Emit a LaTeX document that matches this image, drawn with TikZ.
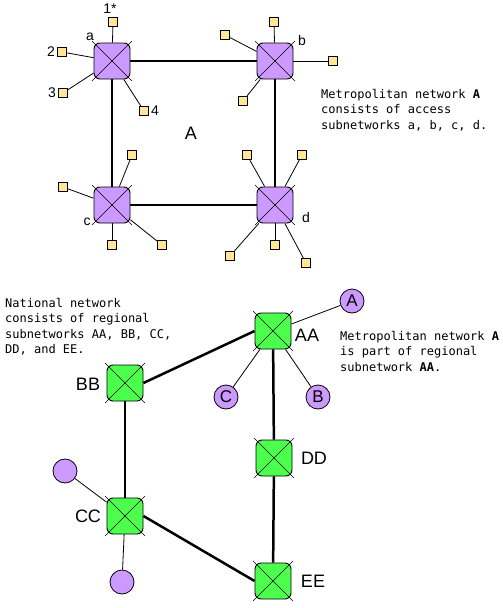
\documentclass[tikz,border=0pt]{standalone}
\usepackage{fontspec}
\setmainfont{Liberation Sans}
\newfontfamily\notefont{DejaVu Sans Mono}
\definecolor{swpurple}{HTML}{CC99FF}
\definecolor{swgreen}{HTML}{4CFF4C}
\definecolor{leafyellow}{HTML}{FFE699}
\tikzset{
 sw/.style={rectangle, rounded corners=6pt, draw, line width=0.9pt, minimum size=36pt, inner sep=0},
 purp/.style={sw, fill=swpurple},
 grn/.style={sw, fill=swgreen},
 leaf/.style={rectangle, draw, line width=0.7pt, fill=leafyellow, minimum size=9.5pt, inner sep=0},
 circ/.style={circle, draw, line width=0.8pt, fill=swpurple, minimum size=24pt, inner sep=0, font=\fontsize{17}{17}\selectfont},
 trunk/.style={line width=2.5pt},
 tap/.style={line width=0.8pt},
 crossline/.style={line width=0.45pt},
 lbl/.style={font=\fontsize{14}{14}\selectfont, inner sep=0},
 big/.style={font=\fontsize{18}{18}\selectfont, inner sep=0},
 note/.style={font=\notefont\fontsize{12}{15.5}\selectfont, align=left, anchor=north west, inner sep=0},
}
\newcommand\xcross[1]{%
  \draw[crossline] ([shift={(-20,-20)}]#1.center) -- ([shift={(20,20)}]#1.center);
  \draw[crossline] ([shift={(-20,20)}]#1.center) -- ([shift={(20,-20)}]#1.center);}
\begin{document}
\begin{tikzpicture}[x=1pt,y=-1pt]
\useasboundingbox (0,0) rectangle (503,608);
% metropolitan switches
\node[purp] (a) at (112,61) {};
\node[purp] (b) at (275,61) {};
\node[purp] (c) at (112,205) {};
\node[purp] (d) at (275,205) {};
% leaves
\node[leaf] (a1) at (113,22) {};
\node[leaf] (a2) at (62,52) {};
\node[leaf] (a3) at (63,93) {};
\node[leaf] (a4) at (144,111) {};
\node[leaf] (b1) at (274,22) {};
\node[leaf] (b2) at (225,35) {};
\node[leaf] (b3) at (333,61) {};
\node[leaf] (b4) at (243,101) {};
\node[leaf] (c1) at (132,155) {};
\node[leaf] (c2) at (63,187) {};
\node[leaf] (c3) at (112,245) {};
\node[leaf] (c4) at (162,245) {};
\node[leaf] (d1) at (247,155) {};
\node[leaf] (d2) at (302,155) {};
\node[leaf] (d3) at (230,256) {};
\node[leaf] (d4) at (275,245) {};
\node[leaf] (d5) at (306,263) {};
% labels
\node[lbl] (la1) at (110,9) {1*};
\node[lbl] (la2) at (51,52) {2};
\node[lbl] (la3) at (52,93) {3};
\node[lbl] (la4) at (155,111) {4};
\node[lbl] (la) at (90,37) {a};
\node[lbl] (lb) at (302,40) {b};
\node[lbl] (lc) at (87,222) {c};
\node[lbl] (ld) at (306,217) {d};
\node[big] (lA) at (191,133) {A};
% trunks
\draw[trunk] (a) -- (b);
\draw[trunk] (a) -- (c);
\draw[trunk] (b) -- (d);
\draw[trunk] (c) -- (d);
% taps
\foreach \s/\l in {a/a1,a/a2,a/a3,a/a4,b/b1,b/b2,b/b3,b/b4,c/c1,c/c2,c/c3,c/c4,d/d1,d/d2,d/d3,d/d4,d/d5}
  \draw[tap] (\s) -- (\l);
\foreach \s in {a,b,c,d} {\xcross{\s}}
\node[note] (n1) at (321,89) {Metropolitan network \textbf{A}\\consists of access\\subnetworks a, b, c, d.};
% national network
\node[grn] (AA) at (273,331) {};
\node[grn] (BB) at (125,383) {};
\node[grn] (CC) at (125,516) {};
\node[grn] (DD) at (274,458) {};
\node[grn] (EE) at (273,581) {};
\node[circ] (cA) at (352,301) {A};
\node[circ] (cC) at (226,397) {C};
\node[circ] (cB) at (318,397) {B};
\node[circ] (cL) at (65,471) {};
\node[circ] (cD) at (122,582) {};
\node[big] (lAA) at (307,335) {AA};
\node[big] (lBB) at (88,384) {BB};
\node[big] (lCC) at (88,516) {CC};
\node[big] (lDD) at (314,458) {DD};
\node[big] (lEE) at (313,581) {EE};
\draw[trunk] (BB.east) -- (AA.west);
\draw[trunk] (AA) -- (DD);
\draw[trunk] (DD) -- (EE);
\draw[trunk] (BB) -- (CC);
\draw[trunk] (CC.east) -- (EE.west);
\draw[tap] (AA) -- (cA);
\draw[tap] (AA) -- (cC);
\draw[tap] (AA) -- (cB);
\draw[tap] (CC) -- (cL);
\draw[tap] (CC) -- (cD);
\foreach \s in {AA,BB,CC,DD,EE} {\xcross{\s}}
\node[note] (n2) at (5,298) {National network\\consists of regional\\subnetworks AA, BB, CC,\\DD, and EE.};
\node[note] (n3) at (340,331) {Metropolitan network \textbf{A}\\is part of regional\\subnetwork \textbf{AA}.};
\end{tikzpicture}
\end{document}
